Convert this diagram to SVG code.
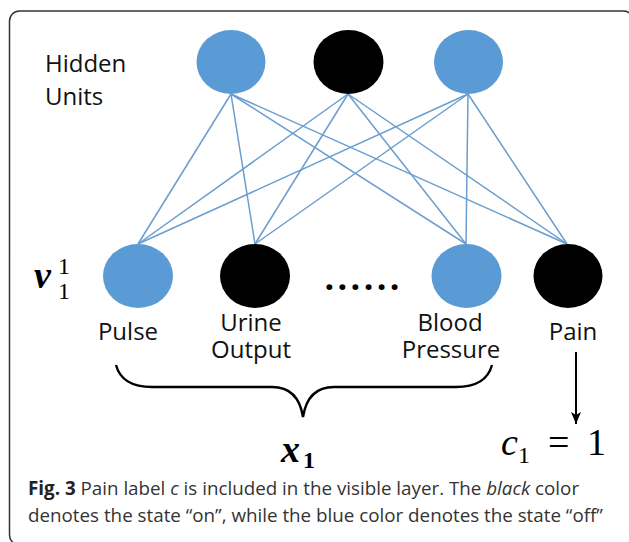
<svg xmlns="http://www.w3.org/2000/svg" width="629" height="542" viewBox="0 0 629 542">
<defs>
<style>
.blue{fill:#5b9bd5}
.black{fill:#000}
.lbl{font-family:"Open Sans","Liberation Sans",sans-serif;font-size:24px;fill:#111}
.edge{stroke:#6a9dd0;stroke-width:1.5;fill:none}
.mi{font-family:"Liberation Serif","DejaVu Serif",serif;font-style:italic;fill:#000}
.mu{font-family:"Liberation Serif","DejaVu Serif",serif;font-style:normal;fill:#000}
.cap{font-family:"Open Sans","Liberation Sans",sans-serif;font-size:18.8px;fill:#333}
</style>
<marker id="ah" viewBox="0 0 12 10" refX="12" refY="5" markerWidth="12" markerHeight="10" markerUnits="userSpaceOnUse" orient="auto">
<path d="M0,0 L12,5 L0,10 L3,5 Z" fill="#000"/>
</marker>
</defs>
<rect x="9.5" y="11" width="624" height="534" rx="10" fill="#fff" stroke="#333" stroke-width="1.5"/>
<g id="connectors">
<line class="edge" x1="231" y1="94" x2="138" y2="244"/>
<line class="edge" x1="231" y1="94" x2="255" y2="244"/>
<line class="edge" x1="231" y1="94" x2="466" y2="244"/>
<line class="edge" x1="231" y1="94" x2="567" y2="244"/>
<line class="edge" x1="348" y1="94" x2="138" y2="244"/>
<line class="edge" x1="348" y1="94" x2="255" y2="244"/>
<line class="edge" x1="348" y1="94" x2="466" y2="244"/>
<line class="edge" x1="348" y1="94" x2="567" y2="244"/>
<line class="edge" x1="468" y1="94" x2="138" y2="244"/>
<line class="edge" x1="468" y1="94" x2="255" y2="244"/>
<line class="edge" x1="468" y1="94" x2="466" y2="244"/>
<line class="edge" x1="468" y1="94" x2="567" y2="244"/>
<line x1="576" y1="352" x2="576" y2="424" stroke="#000" stroke-width="2" marker-end="url(#ah)"/>
</g>
<g id="hidden-label"><text class="lbl" x="45" y="72">Hidden</text><text class="lbl" x="45" y="105">Units</text></g>
<g id="h1"><ellipse class="blue" cx="231" cy="62" rx="34.5" ry="32"/></g>
<g id="h2"><ellipse class="black" cx="348.5" cy="62" rx="35" ry="32"/></g>
<g id="h3"><ellipse class="blue" cx="468.5" cy="62" rx="34.5" ry="32"/></g>
<g id="v-pulse"><ellipse class="blue" cx="138" cy="276" rx="35" ry="32"/><text class="lbl" x="128" y="340" text-anchor="middle">Pulse</text></g>
<g id="v-urine"><ellipse class="black" cx="255" cy="276" rx="35" ry="32"/><text class="lbl" x="251" y="331" text-anchor="middle">Urine</text><text class="lbl" x="251" y="358" text-anchor="middle">Output</text></g>
<g id="v-dots"><text x="362" y="290" text-anchor="middle" font-family="Open Sans,Liberation Sans,sans-serif" font-weight="bold" font-size="34" textLength="75" lengthAdjust="spacing">......</text></g>
<g id="v-blood"><ellipse class="blue" cx="466.5" cy="276" rx="35" ry="32"/><text class="lbl" x="450" y="331" text-anchor="middle">Blood</text><text class="lbl" x="451" y="358" text-anchor="middle">Pressure</text></g>
<g id="v-pain"><ellipse class="black" cx="568" cy="276" rx="34.5" ry="32"/><text class="lbl" x="573" y="340" text-anchor="middle">Pain</text></g>
<g id="v-label"><text class="mi" x="34" y="288" font-size="38" font-weight="bold">v</text><text class="mu" x="58" y="274" font-size="24">1</text><text class="mu" x="58" y="299" font-size="24">1</text></g>
<g id="brace"><path d="M116,365 C120,380 132,387 152,387 L272,387 C290,387 300,398 303,417 C306,398 316,387 334,387 L456,387 C476,387 488,380 492,365" fill="none" stroke="#000" stroke-width="2.4"/></g>
<g id="x-label"><text class="mi" x="281" y="462" font-size="38" font-weight="bold">x</text><text class="mu" x="303" y="468" font-size="24" font-weight="bold">1</text></g>
<g id="c-label"><text class="mi" x="501" y="455" font-size="38">c</text><text class="mu" x="518" y="463" font-size="24">1</text><text class="mu" x="548" y="455" font-size="38">=</text><text class="mu" x="587" y="455" font-size="38">1</text></g>
<g id="caption"><text class="cap" x="28" y="495"><tspan font-weight="bold" fill="#222">Fig. 3</tspan> Pain label <tspan font-style="italic">c</tspan> is included in the visible layer. The <tspan font-style="italic">black</tspan> color</text><text class="cap" x="28" y="522">denotes the state “on”, while the blue color denotes the state “off”</text></g>
</svg>
